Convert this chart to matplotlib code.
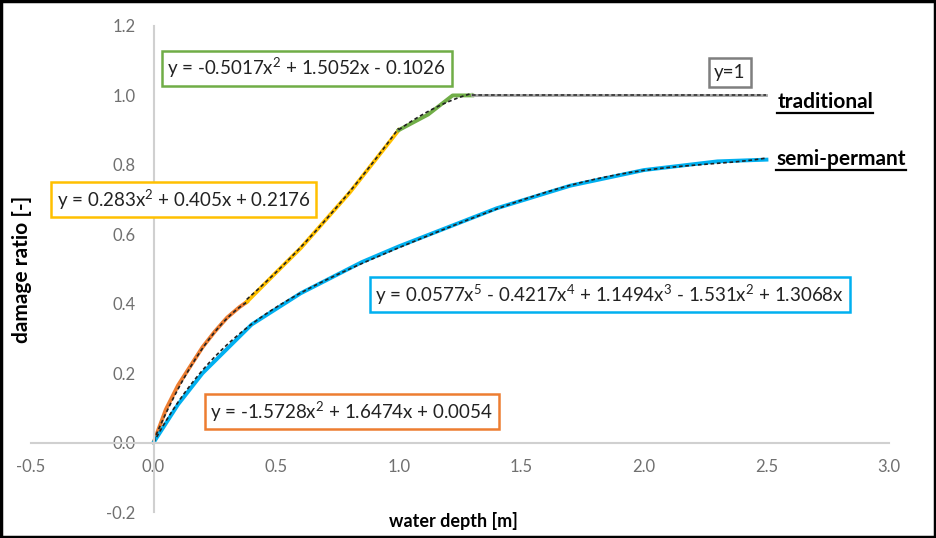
import numpy as np
import matplotlib.pyplot as plt
from matplotlib.lines import Line2D

plt.rcParams['font.family'] = ['Lato', 'DejaVu Sans']
plt.rcParams['mathtext.fontset'] = 'custom'
plt.rcParams['mathtext.rm'] = 'Lato'
plt.rcParams['mathtext.it'] = 'Lato'
plt.rcParams['mathtext.bf'] = 'Lato:bold'

# traditional - measured pieces
trad1_x = [0, 0.05, 0.1, 0.15, 0.2, 0.25, 0.3, 0.35, 0.38]
trad1_y = [0, 0.095, 0.165, 0.22, 0.275, 0.32, 0.36, 0.39, 0.405]
trad2_x = [0.38, 0.5, 0.6, 0.7, 0.8, 0.9, 1.0]
trad2_y = [0.405, 0.49, 0.56, 0.64, 0.72, 0.81, 0.90]
trad3_x = [1.0, 1.12, 1.22, 1.3]
trad3_y = [0.90, 0.945, 1.0, 1.0]
trad4_x = [1.3, 2.5]
trad4_y = [1.0, 1.0]

# semi-permanent - measured
semi_x = [0, 0.1, 0.2, 0.4, 0.6, 0.85, 1.0, 1.2, 1.4, 1.7, 2.0, 2.3, 2.5]
semi_y = [0, 0.11, 0.2, 0.34, 0.43, 0.52, 0.565, 0.62, 0.675, 0.74, 0.785, 0.81, 0.815]

# fitted polynomials (highest power first)
fit_orange = [-1.5728, 1.6474, 0.0054]
fit_yellow = [0.283, 0.405, 0.2176]
fit_green = [-0.5017, 1.5052, -0.1026]
fit_blue = [0.0577, -0.4217, 1.1494, -1.531, 1.3068, 0]

c_orange = '#ED7D31'
c_yellow = '#FFC000'
c_green = '#70AD47'
c_blue = '#00B0F0'
c_gray = '#A5A5A5'

fig = plt.figure(figsize=(9.36, 5.38), dpi=100)
ax = fig.add_axes([0.0331, 0.0483, 0.9167, 0.9034])

lw = 2.8
ax.plot(trad1_x, trad1_y, color=c_orange, lw=lw)
ax.plot(trad2_x, trad2_y, color=c_yellow, lw=lw)
ax.plot(trad3_x, trad3_y, color=c_green, lw=lw)
ax.plot(trad4_x, trad4_y, color=c_gray, lw=2)
ax.plot(semi_x, semi_y, color=c_blue, lw=lw)

dash = (0, (2.2, 1.6))
for coefs, x0, x1 in [(fit_orange, 0, 0.38), (fit_yellow, 0.38, 1.0),
                      (fit_green, 1.0, 1.3), (fit_blue, 0, 2.5)]:
    xx = np.linspace(x0, x1, 200)
    ax.plot(xx, np.polyval(coefs, xx), color='#222222', lw=1.2, ls=dash)
ax.plot(trad4_x, trad4_y, color='#333333', lw=1.2, ls=dash)

ax.set_xlim(-0.5, 3.0)
ax.set_ylim(-0.2, 1.2)
ax.set_xticks(np.arange(-0.5, 3.01, 0.5))
ax.set_yticks(np.arange(-0.2, 1.21, 0.2))
ax.xaxis.set_major_formatter(plt.FormatStrFormatter('%.1f'))
ax.yaxis.set_major_formatter(plt.FormatStrFormatter('%.1f'))
ax.spines['left'].set_position(('data', 0))
ax.spines['bottom'].set_position(('data', 0))
ax.spines['right'].set_visible(False)
ax.spines['top'].set_visible(False)
for s in ['left', 'bottom']:
    ax.spines[s].set_color('#D0D0D0')
    ax.spines[s].set_linewidth(1.5)
ax.tick_params(length=0, labelsize=12, labelcolor='#707070')
ax.tick_params(axis='x', pad=12)
ax.tick_params(axis='y', pad=13)
ax.set_facecolor('none')

fig.text(0.0235, 0.5, 'damage ratio [-]', rotation=90, ha='center', va='center',
         fontsize=15, fontweight='bold')
fig.text(0.484, 0.032, 'water depth [m]', ha='center', va='center',
         fontsize=13, fontweight='bold')

def box(x, y, s, col):
    ax.text(x, y, s, fontsize=13.5, ha='center', va='center', color='#222222',
            bbox=dict(boxstyle='square,pad=0.3', fc='white', ec=col, lw=1.8))

box(0.624, 1.078, 'y = -0.5017x$^{2}$ + 1.5052x - 0.1026', c_green)
box(2.351, 1.066, 'y=1', '#7F7F7F')
box(0.122, 0.70, 'y = 0.283x$^{2}$ + 0.405x + 0.2176', c_yellow)
box(1.861, 0.4265,
    'y = 0.0577x$^{5}$ - 0.4217x$^{4}$ + 1.1494x$^{3}$ - 1.531x$^{2}$ + 1.3068x', c_blue)
box(0.808, 0.089, 'y = -1.5728x$^{2}$ + 1.6474x + 0.0054', c_orange)

t1 = ax.text(2.545, 0.98, 'traditional', fontsize=15, fontweight='bold', va='center')
t2 = ax.text(2.54, 0.818, 'semi-permant', fontsize=15, fontweight='bold', va='center')

fig.canvas.draw()
r = fig.canvas.get_renderer()
inv = fig.transFigure.inverted()
for t in [t1, t2]:
    bb = t.get_window_extent(r)
    (xa, ya), (xb, yb) = inv.transform([(bb.x0, bb.y0 - 1), (bb.x1, bb.y0 - 1)])
    fig.add_artist(Line2D([xa, xb], [ya, yb], color='black', lw=1.6))

fig.add_artist(plt.Rectangle((0.001, 0.002), 0.998, 0.996, transform=fig.transFigure,
                             fill=False, ec='black', lw=2.5))

fig.savefig('out.png', dpi=100)
